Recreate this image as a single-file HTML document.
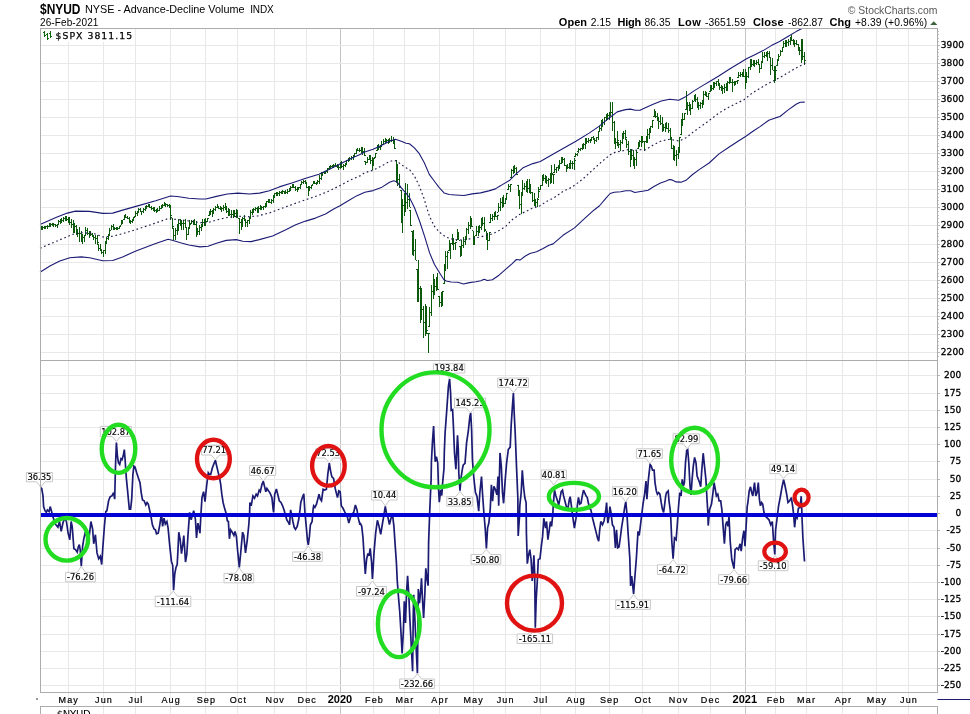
<!DOCTYPE html>
<html lang="en"><head><meta charset="utf-8"><title>$NYUD NYSE - Advance-Decline Volume</title>
<style>html,body{margin:0;padding:0;background:#fff}svg{display:block}text{font-family:"Liberation Sans",sans-serif;fill:#000}.ax{font-family:"DejaVu Sans","Liberation Sans",sans-serif;font-size:9px;stroke:#000;stroke-width:0.3px}.lb{font-family:"DejaVu Sans Condensed","DejaVu Sans","Liberation Sans",sans-serif;font-size:9.3px;stroke:#000;stroke-width:0.15px}.mo{font-family:"Liberation Sans",sans-serif;font-size:9px;letter-spacing:1.15px;stroke:#000;stroke-width:0.2px}.yr{font-family:"Liberation Sans",sans-serif;font-size:11px;font-weight:bold}</style></head><body>
<svg width="970" height="714" viewBox="0 0 970 714">
<rect width="970" height="714" fill="#fff"/>
<g shape-rendering="crispEdges"><path d="M68.5 28.5 V692.5 M68.5 706.5 V714" stroke="#e8e8e8" stroke-width="1" fill="none"/><path d="M68.5 692.5 V706.5" stroke="#ececec" stroke-width="1" fill="none"/><path d="M103.5 28.5 V692.5 M103.5 706.5 V714" stroke="#e8e8e8" stroke-width="1" fill="none"/><path d="M103.5 692.5 V706.5" stroke="#ececec" stroke-width="1" fill="none"/><path d="M135.5 28.5 V692.5 M135.5 706.5 V714" stroke="#e8e8e8" stroke-width="1" fill="none"/><path d="M135.5 692.5 V706.5" stroke="#ececec" stroke-width="1" fill="none"/><path d="M170.5 28.5 V692.5 M170.5 706.5 V714" stroke="#e8e8e8" stroke-width="1" fill="none"/><path d="M170.5 692.5 V706.5" stroke="#ececec" stroke-width="1" fill="none"/><path d="M205.5 28.5 V692.5 M205.5 706.5 V714" stroke="#e8e8e8" stroke-width="1" fill="none"/><path d="M205.5 692.5 V706.5" stroke="#ececec" stroke-width="1" fill="none"/><path d="M237.5 28.5 V692.5 M237.5 706.5 V714" stroke="#e8e8e8" stroke-width="1" fill="none"/><path d="M237.5 692.5 V706.5" stroke="#ececec" stroke-width="1" fill="none"/><path d="M274.5 28.5 V692.5 M274.5 706.5 V714" stroke="#e8e8e8" stroke-width="1" fill="none"/><path d="M274.5 692.5 V706.5" stroke="#ececec" stroke-width="1" fill="none"/><path d="M306.5 28.5 V692.5 M306.5 706.5 V714" stroke="#e8e8e8" stroke-width="1" fill="none"/><path d="M306.5 692.5 V706.5" stroke="#ececec" stroke-width="1" fill="none"/><path d="M340.5 28.5 V692.5 M340.5 706.5 V714" stroke="#c4c4c4" stroke-width="1" fill="none"/><path d="M340.5 692.5 V706.5" stroke="#ececec" stroke-width="1" fill="none"/><path d="M373.5 28.5 V692.5 M373.5 706.5 V714" stroke="#e8e8e8" stroke-width="1" fill="none"/><path d="M373.5 692.5 V706.5" stroke="#ececec" stroke-width="1" fill="none"/><path d="M404.5 28.5 V692.5 M404.5 706.5 V714" stroke="#e8e8e8" stroke-width="1" fill="none"/><path d="M404.5 692.5 V706.5" stroke="#ececec" stroke-width="1" fill="none"/><path d="M439.5 28.5 V692.5 M439.5 706.5 V714" stroke="#e8e8e8" stroke-width="1" fill="none"/><path d="M439.5 692.5 V706.5" stroke="#ececec" stroke-width="1" fill="none"/><path d="M473.5 28.5 V692.5 M473.5 706.5 V714" stroke="#e8e8e8" stroke-width="1" fill="none"/><path d="M473.5 692.5 V706.5" stroke="#ececec" stroke-width="1" fill="none"/><path d="M505.5 28.5 V692.5 M505.5 706.5 V714" stroke="#e8e8e8" stroke-width="1" fill="none"/><path d="M505.5 692.5 V706.5" stroke="#ececec" stroke-width="1" fill="none"/><path d="M540.5 28.5 V692.5 M540.5 706.5 V714" stroke="#e8e8e8" stroke-width="1" fill="none"/><path d="M540.5 692.5 V706.5" stroke="#ececec" stroke-width="1" fill="none"/><path d="M575.5 28.5 V692.5 M575.5 706.5 V714" stroke="#e8e8e8" stroke-width="1" fill="none"/><path d="M575.5 692.5 V706.5" stroke="#ececec" stroke-width="1" fill="none"/><path d="M609.5 28.5 V692.5 M609.5 706.5 V714" stroke="#e8e8e8" stroke-width="1" fill="none"/><path d="M609.5 692.5 V706.5" stroke="#ececec" stroke-width="1" fill="none"/><path d="M642.5 28.5 V692.5 M642.5 706.5 V714" stroke="#e8e8e8" stroke-width="1" fill="none"/><path d="M642.5 692.5 V706.5" stroke="#ececec" stroke-width="1" fill="none"/><path d="M678.5 28.5 V692.5 M678.5 706.5 V714" stroke="#e8e8e8" stroke-width="1" fill="none"/><path d="M678.5 692.5 V706.5" stroke="#ececec" stroke-width="1" fill="none"/><path d="M710.5 28.5 V692.5 M710.5 706.5 V714" stroke="#e8e8e8" stroke-width="1" fill="none"/><path d="M710.5 692.5 V706.5" stroke="#ececec" stroke-width="1" fill="none"/><path d="M745.5 28.5 V692.5 M745.5 706.5 V714" stroke="#c4c4c4" stroke-width="1" fill="none"/><path d="M745.5 692.5 V706.5" stroke="#ececec" stroke-width="1" fill="none"/><path d="M775.5 28.5 V692.5 M775.5 706.5 V714" stroke="#e8e8e8" stroke-width="1" fill="none"/><path d="M775.5 692.5 V706.5" stroke="#ececec" stroke-width="1" fill="none"/><path d="M806.5 28.5 V692.5 M806.5 706.5 V714" stroke="#e8e8e8" stroke-width="1" fill="none"/><path d="M806.5 692.5 V706.5" stroke="#ececec" stroke-width="1" fill="none"/><path d="M842.5 28.5 V692.5 M842.5 706.5 V714" stroke="#e8e8e8" stroke-width="1" fill="none"/><path d="M842.5 692.5 V706.5" stroke="#ececec" stroke-width="1" fill="none"/><path d="M876.5 28.5 V692.5 M876.5 706.5 V714" stroke="#e8e8e8" stroke-width="1" fill="none"/><path d="M876.5 692.5 V706.5" stroke="#ececec" stroke-width="1" fill="none"/><path d="M908.5 28.5 V692.5 M908.5 706.5 V714" stroke="#e8e8e8" stroke-width="1" fill="none"/><path d="M908.5 692.5 V706.5" stroke="#ececec" stroke-width="1" fill="none"/><path d="M40.5 352.5 H937.5 M40.5 334.5 H937.5 M40.5 316.5 H937.5 M40.5 298.5 H937.5 M40.5 280.5 H937.5 M40.5 262.5 H937.5 M40.5 244.5 H937.5 M40.5 225.5 H937.5 M40.5 207.5 H937.5 M40.5 189.5 H937.5 M40.5 171.5 H937.5 M40.5 153.5 H937.5 M40.5 135.5 H937.5 M40.5 117.5 H937.5 M40.5 99.5 H937.5 M40.5 81.5 H937.5 M40.5 63.5 H937.5 M40.5 45.5 H937.5 M40.5 685.5 H937.5 M40.5 668.5 H937.5 M40.5 651.5 H937.5 M40.5 634.5 H937.5 M40.5 616.5 H937.5 M40.5 599.5 H937.5 M40.5 582.5 H937.5 M40.5 565.5 H937.5 M40.5 548.5 H937.5 M40.5 530.5 H937.5 M40.5 513.5 H937.5 M40.5 496.5 H937.5 M40.5 479.5 H937.5 M40.5 461.5 H937.5 M40.5 444.5 H937.5 M40.5 427.5 H937.5 M40.5 410.5 H937.5 M40.5 393.5 H937.5 M40.5 375.5 H937.5" stroke="#e8e8e8" stroke-width="1" fill="none"/></g>
<path d="M41.5 226V230M41 228.5h-1M42 227.5h1M42.5 226V230M42 227.5h-1M43 227.5h1M44.5 226V229M44 227.5h-1M45 227.5h1M45.5 226V229M45 227.5h-1M46 226.5h1M47.5 225V229M47 226.5h-1M48 226.5h1M49.5 223V227M49 226.5h-1M50 224.5h1M50.5 223V227M50 224.5h-1M51 224.5h1M52.5 223V226M52 224.5h-1M53 224.5h1M53.5 223V227M53 224.5h-1M54 224.5h1M55.5 224V227M55 224.5h-1M56 225.5h1M57.5 224V228M57 225.5h-1M58 224.5h1M58.5 220V225M58 224.5h-1M59 221.5h1M60.5 219V224M60 221.5h-1M61 220.5h1M61.5 218V223M61 220.5h-1M62 220.5h1M63.5 217V222M63 220.5h-1M64 218.5h1M65.5 216V221M65 218.5h-1M66 217.5h1M66.5 216V221M66 217.5h-1M67 219.5h1M68.5 217V223M68 219.5h-1M69 221.5h1M69.5 217V225M69 221.5h-1M70 222.5h1M71.5 219V228M71 222.5h-1M72 224.5h1M73.5 220V233M73 224.5h-1M74 229.5h1M74.5 223V233M74 229.5h-1M75 226.5h1M76.5 225V235M76 226.5h-1M77 232.5h1M77.5 229V237M77 232.5h-1M78 233.5h1M79.5 227V242M79 233.5h-1M80 233.5h1M81.5 231V242M81 233.5h-1M82 236.5h1M82.5 234V244M82 236.5h-1M83 237.5h1M84.5 235V242M84 237.5h-1M85 235.5h1M85.5 227V236M85 235.5h-1M86 230.5h1M87.5 228V235M87 230.5h-1M88 233.5h1M89.5 231V238M89 233.5h-1M90 234.5h1M90.5 231V236M90 234.5h-1M91 234.5h1M92.5 233V237M92 234.5h-1M93 236.5h1M93.5 235V240M93 236.5h-1M94 237.5h1M95.5 235V244M95 237.5h-1M96 238.5h1M97.5 235V244M97 238.5h-1M98 242.5h1M98.5 244V251M98 244.5h-1M99 248.5h1M100.5 244V251M100 248.5h-1M101 249.5h1M101.5 249V254M101 249.5h-1M102 252.5h1M103.5 250V257M103 252.5h-1M104 250.5h1M105.5 241V254M105 250.5h-1M106 243.5h1M106.5 237V244M106 243.5h-1M107 238.5h1M108.5 234V240M108 238.5h-1M109 235.5h1M109.5 228V235M109 235.5h-1M110 230.5h1M111.5 225V230M111 230.5h-1M112 226.5h1M113.5 224V230M113 226.5h-1M114 228.5h1M114.5 227V230M114 228.5h-1M115 228.5h1M116.5 227V230M116 228.5h-1M117 228.5h1M117.5 227V230M117 228.5h-1M118 228.5h1M119.5 226V229M119 228.5h-1M120 226.5h1M121.5 220V225M121 225.5h-1M122 223.5h1M122.5 220V224M122 223.5h-1M123 219.5h1M124.5 215V220M124 219.5h-1M125 216.5h1M125.5 214V218M125 216.5h-1M126 217.5h1M127.5 216V219M127 217.5h-1M128 218.5h1M129.5 217V223M129 218.5h-1M130 221.5h1M130.5 220V224M130 221.5h-1M131 221.5h1M132.5 219V223M132 221.5h-1M133 220.5h1M133.5 217V221M133 220.5h-1M134 217.5h1M135.5 211V217M135 216.5h-1M136 213.5h1M137.5 211V216M137 213.5h-1M138 212.5h1M138.5 208V213M138 212.5h-1M139 209.5h1M140.5 208V212M140 209.5h-1M141 211.5h1M141.5 211V215M141 211.5h-1M142 211.5h1M143.5 208V213M143 211.5h-1M144 209.5h1M145.5 206V211M145 209.5h-1M146 207.5h1M146.5 205V209M146 207.5h-1M147 206.5h1M148.5 204V207M148 206.5h-1M149 206.5h1M149.5 204V208M149 206.5h-1M150 207.5h1M151.5 206V210M151 207.5h-1M152 208.5h1M153.5 207V211M153 208.5h-1M154 208.5h1M154.5 207V212M154 208.5h-1M155 210.5h1M156.5 209V213M156 210.5h-1M157 210.5h1M157.5 208V212M157 210.5h-1M158 210.5h1M159.5 206V211M159 210.5h-1M160 208.5h1M161.5 205V209M161 208.5h-1M162 206.5h1M162.5 204V208M162 206.5h-1M163 205.5h1M164.5 202V206M164 205.5h-1M165 204.5h1M165.5 203V207M165 204.5h-1M166 204.5h1M167.5 204V207M167 204.5h-1M168 205.5h1M169.5 204V208M169 205.5h-1M170 207.5h1M170.5 205V220M170 207.5h-1M171 215.5h1M172.5 218V229M172 217.5h-1M173 226.5h1M173.5 228V240M173 228.5h-1M174 235.5h1M175.5 228V240M175 235.5h-1M176 230.5h1M177.5 224V235M177 230.5h-1M178 226.5h1M178.5 219V231M178 226.5h-1M179 223.5h1M180.5 219V226M180 223.5h-1M181 224.5h1M181.5 220V230M181 224.5h-1M182 223.5h1M183.5 220V230M183 223.5h-1M184 223.5h1M185.5 219V228M185 223.5h-1M186 227.5h1M186.5 227V240M186 227.5h-1M187 234.5h1M188.5 227V235M188 234.5h-1M189 228.5h1M189.5 220V228M189 227.5h-1M190 224.5h1M191.5 220V224M191 223.5h-1M192 221.5h1M193.5 220V225M193 221.5h-1M194 222.5h1M194.5 219V225M194 222.5h-1M195 224.5h1M196.5 221V237M196 224.5h-1M197 232.5h1M197.5 228V235M197 232.5h-1M198 231.5h1M199.5 225V235M199 231.5h-1M200 227.5h1M201.5 224V231M201 227.5h-1M202 224.5h1M202.5 219V227M202 224.5h-1M203 222.5h1M204.5 219V226M204 222.5h-1M205 221.5h1M205.5 218V226M205 221.5h-1M206 221.5h1M207.5 218V222M207 221.5h-1M208 218.5h1M209.5 211V216M209 215.5h-1M210 212.5h1M210.5 209V215M210 212.5h-1M211 211.5h1M212.5 210V217M212 211.5h-1M213 211.5h1M213.5 208V214M213 211.5h-1M214 209.5h1M215.5 206V211M215 209.5h-1M216 207.5h1M217.5 204V208M217 207.5h-1M218 207.5h1M218.5 206V209M218 207.5h-1M219 208.5h1M220.5 206V210M220 208.5h-1M221 208.5h1M221.5 207V212M221 208.5h-1M222 208.5h1M223.5 205V211M223 208.5h-1M224 207.5h1M225.5 203V210M225 207.5h-1M226 206.5h1M226.5 206V213M226 206.5h-1M227 211.5h1M228.5 208V216M228 211.5h-1M229 213.5h1M229.5 209V216M229 213.5h-1M230 214.5h1M231.5 210V218M231 214.5h-1M232 214.5h1M233.5 210V218M233 214.5h-1M234 213.5h1M234.5 210V217M234 213.5h-1M235 213.5h1M236.5 209V218M236 213.5h-1M237 212.5h1M237.5 210V218M237 212.5h-1M238 218.5h1M239.5 218V234M239 218.5h-1M240 222.5h1M241.5 219V230M241 222.5h-1M242 221.5h1M242.5 217V227M242 221.5h-1M243 218.5h1M244.5 215V221M244 218.5h-1M245 219.5h1M245.5 219V227M245 219.5h-1M246 222.5h1M247.5 220V227M247 222.5h-1M248 220.5h1M249.5 218V224M249 220.5h-1M250 217.5h1M250.5 210V219M250 217.5h-1M251 212.5h1M252.5 209V215M252 212.5h-1M253 210.5h1M253.5 208V213M253 210.5h-1M254 209.5h1M255.5 207V211M255 209.5h-1M256 208.5h1M257.5 207V213M257 208.5h-1M258 210.5h1M258.5 206V213M258 210.5h-1M259 208.5h1M260.5 205V210M260 208.5h-1M261 207.5h1M261.5 206V210M261 207.5h-1M262 207.5h1M263.5 206V210M263 207.5h-1M264 206.5h1M265.5 203V208M265 206.5h-1M266 204.5h1M266.5 201V207M266 204.5h-1M267 201.5h1M268.5 199V203M268 201.5h-1M269 201.5h1M269.5 199V203M269 201.5h-1M270 202.5h1M271.5 199V204M271 202.5h-1M272 200.5h1M273.5 195V203M273 200.5h-1M274 197.5h1M274.5 193V198M274 197.5h-1M275 193.5h1M276.5 192V196M276 193.5h-1M277 193.5h1M277.5 192V196M277 193.5h-1M278 193.5h1M279.5 191V196M279 193.5h-1M280 192.5h1M281.5 191V194M281 192.5h-1M282 192.5h1M282.5 190V194M282 192.5h-1M283 191.5h1M284.5 191V194M284 191.5h-1M285 191.5h1M285.5 190V194M285 191.5h-1M286 192.5h1M287.5 189V194M287 192.5h-1M288 191.5h1M289.5 188V192M289 191.5h-1M290 188.5h1M290.5 186V191M290 188.5h-1M291 187.5h1M292.5 184V188M292 187.5h-1M293 185.5h1M293.5 184V188M293 185.5h-1M294 187.5h1M295.5 186V191M295 187.5h-1M296 189.5h1M297.5 187V192M297 189.5h-1M298 189.5h1M298.5 187V190M298 189.5h-1M299 187.5h1M300.5 184V189M300 187.5h-1M301 184.5h1M301.5 181V185M301 184.5h-1M302 182.5h1M303.5 180V184M303 182.5h-1M304 181.5h1M305.5 180V184M305 181.5h-1M306 183.5h1M306.5 182V188M306 183.5h-1M307 187.5h1M308.5 186V196M308 187.5h-1M309 190.5h1M309.5 186V191M309 190.5h-1M310 187.5h1M311.5 185V189M311 187.5h-1M312 185.5h1M313.5 181V184M313 184.5h-1M314 183.5h1M314.5 181V184M314 183.5h-1M315 183.5h1M316.5 182V185M316 183.5h-1M317 183.5h1M317.5 180V184M317 183.5h-1M318 181.5h1M319.5 175V184M319 181.5h-1M320 178.5h1M321.5 172V180M321 178.5h-1M322 175.5h1M322.5 172V175M322 174.5h-1M323 172.5h1M324.5 171V174M324 172.5h-1M325 172.5h1M325.5 171V174M325 172.5h-1M326 171.5h1M327.5 168V173M327 171.5h-1M328 168.5h1M329.5 166V170M329 168.5h-1M330 166.5h1M330.5 165V169M330 166.5h-1M331 166.5h1M332.5 165V168M332 166.5h-1M333 166.5h1M333.5 164V168M333 166.5h-1M334 165.5h1M335.5 163V167M335 165.5h-1M336 166.5h1M337.5 164V168M337 166.5h-1M338 166.5h1M338.5 165V170M338 166.5h-1M339 167.5h1M340.5 162V169M340 167.5h-1M341 166.5h1M341.5 161V168M341 166.5h-1M342 166.5h1M343.5 164V170M343 166.5h-1M344 165.5h1M345.5 163V167M345 165.5h-1M346 163.5h1M346.5 160V165M346 163.5h-1M347 160.5h1M348.5 158V162M348 160.5h-1M349 159.5h1M349.5 157V161M349 159.5h-1M350 158.5h1M351.5 156V160M351 158.5h-1M352 157.5h1M353.5 155V160M353 157.5h-1M354 156.5h1M354.5 153V157M354 156.5h-1M355 153.5h1M356.5 149V154M356 153.5h-1M357 150.5h1M357.5 148V151M357 150.5h-1M358 150.5h1M359.5 148V152M359 150.5h-1M360 150.5h1M361.5 147V153M361 150.5h-1M362 149.5h1M362.5 147V155M362 149.5h-1M363 151.5h1M364.5 148V156M364 151.5h-1M365 155.5h1M365.5 161V165M365 161.5h-1M366 162.5h1M367.5 157V163M367 162.5h-1M368 159.5h1M369.5 155V160M369 159.5h-1M370 158.5h1M370.5 155V164M370 158.5h-1M371 160.5h1M372.5 157V170M372 160.5h-1M373 164.5h1M373.5 158V166M373 164.5h-1M374 158.5h1M375.5 153V158M375 157.5h-1M376 153.5h1M377.5 145V151M377 150.5h-1M378 148.5h1M378.5 144V150M378 148.5h-1M379 147.5h1M380.5 145V150M380 147.5h-1M381 145.5h1M381.5 141V147M381 145.5h-1M382 144.5h1M383.5 139V145M383 144.5h-1M384 141.5h1M385.5 138V143M385 141.5h-1M386 140.5h1M386.5 139V143M386 140.5h-1M387 140.5h1M388.5 139V144M388 140.5h-1M389 140.5h1M389.5 138V143M389 140.5h-1M390 140.5h1M391.5 136V142M391 140.5h-1M392 140.5h1M393.5 137V144M393 140.5h-1M394 141.5h1M394.5 139V149M394 141.5h-1M395 148.5h1M396.5 160V183M396 160.5h-1M397 177.5h1M397.5 164V186M397 177.5h-1M398 179.5h1M399.5 174V188M399 179.5h-1M400 187.5h1M401.5 190V223M401 190.5h-1M402 212.5h1M402.5 199V233M402 212.5h-1M403 205.5h1M404.5 193V216M404 205.5h-1M405 196.5h1M405.5 183V212M405 196.5h-1M406 202.5h1M407.5 184V209M407 202.5h-1M408 199.5h1M409.5 193V207M409 199.5h-1M410 207.5h1M410.5 210V226M410 210.5h-1M411 225.5h1M412.5 231V255M412 231.5h-1M413 242.5h1M413.5 230V256M413 242.5h-1M414 250.5h1M415.5 239V260M415 250.5h-1M416 260.5h1M417.5 269V302M417 269.5h-1M418 279.5h1M418.5 260V302M418 279.5h-1M419 288.5h1M420.5 286V323M420 288.5h-1M421 301.5h1M421.5 288V320M421 301.5h-1M422 309.5h1M423.5 306V338M423 309.5h-1M424 322.5h1M425.5 304V336M425 322.5h-1M426 316.5h1M426.5 306V334M426 316.5h-1M427 330.5h1M428.5 333V353M428 333.5h-1M429 333.5h1M429.5 307V327M429 326.5h-1M430 312.5h1M431.5 285V316M431 312.5h-1M432 291.5h1M433.5 274V299M433 291.5h-1M434 286.5h1M434.5 279V295M434 286.5h-1M435 286.5h1M436.5 277V291M436 286.5h-1M437 285.5h1M437.5 273V290M437 285.5h-1M438 289.5h1M439.5 296V307M439 296.5h-1M440 302.5h1M441.5 292V307M441 302.5h-1M442 298.5h1M442.5 291V306M442 298.5h-1M443 291.5h1M444.5 264V284M444 283.5h-1M445 267.5h1M445.5 251V271M445 267.5h-1M446 256.5h1M447.5 251V269M447 256.5h-1M448 252.5h1M449.5 240V251M449 250.5h-1M450 246.5h1M450.5 243V259M450 246.5h-1M451 243.5h1M452.5 234V245M452 243.5h-1M453 243.5h1M453.5 238V250M453 243.5h-1M454 243.5h1M455.5 242V250M455 243.5h-1M456 242.5h1M457.5 229V240M457 240.5h-1M458 236.5h1M458.5 232V240M458 236.5h-1M459 240.5h1M460.5 246V257M460 246.5h-1M461 249.5h1M461.5 240V256M461 249.5h-1M462 245.5h1M463.5 237V248M463 245.5h-1M464 241.5h1M465.5 236V245M465 241.5h-1M466 238.5h1M466.5 228V240M466 238.5h-1M467 229.5h1M468.5 222V234M468 229.5h-1M469 225.5h1M470.5 216V229M470 225.5h-1M471 221.5h1M471.5 218V227M471 221.5h-1M472 226.5h1M473.5 231V245M473 230.5h-1M474 240.5h1M474.5 236V245M474 240.5h-1M475 235.5h1M476.5 226V236M476 235.5h-1M477 231.5h1M478.5 226V236M478 231.5h-1M479 230.5h1M479.5 225V233M479 230.5h-1M480 227.5h1M481.5 218V230M481 227.5h-1M482 222.5h1M482.5 217V226M482 222.5h-1M483 223.5h1M484.5 217V232M484 223.5h-1M485 229.5h1M486.5 231V240M486 230.5h-1M487 238.5h1M487.5 233V250M487 238.5h-1M488 240.5h1M489.5 232V241M489 240.5h-1M490 232.5h1M490.5 214V223M490 222.5h-1M491 218.5h1M492.5 214V221M492 218.5h-1M493 216.5h1M494.5 212V220M494 216.5h-1M495 216.5h1M495.5 211V217M495 216.5h-1M496 216.5h1M497.5 215V220M497 216.5h-1M498 215.5h1M498.5 203V212M498 212.5h-1M499 207.5h1M500.5 198V211M500 207.5h-1M501 202.5h1M502.5 197V208M502 202.5h-1M503 202.5h1M503.5 195V207M503 202.5h-1M504 203.5h1M505.5 198V204M505 203.5h-1M506 199.5h1M506.5 193V200M506 199.5h-1M507 193.5h1M508.5 184V190M508 189.5h-1M509 186.5h1M510.5 184V192M510 186.5h-1M511 184.5h1M511.5 169V178M511 177.5h-1M512 170.5h1M513.5 166V174M513 170.5h-1M514 168.5h1M514.5 165V173M514 168.5h-1M515 168.5h1M516.5 167V175M516 168.5h-1M517 174.5h1M518.5 185V196M518 185.5h-1M519 195.5h1M519.5 190V209M519 195.5h-1M520 204.5h1M521.5 193V214M521 204.5h-1M522 192.5h1M522.5 180V196M522 192.5h-1M523 188.5h1M524.5 183V190M524 188.5h-1M525 186.5h1M526.5 181V192M526 186.5h-1M527 184.5h1M527.5 179V193M527 184.5h-1M528 188.5h1M529.5 179V193M529 188.5h-1M530 190.5h1M530.5 184V194M530 190.5h-1M531 192.5h1M532.5 192V202M532 192.5h-1M533 200.5h1M534.5 193V206M534 200.5h-1M535 200.5h1M535.5 199V207M535 200.5h-1M536 202.5h1M537.5 198V207M537 202.5h-1M538 199.5h1M538.5 187V198M538 198.5h-1M539 191.5h1M540.5 185V190M540 189.5h-1M541 185.5h1M542.5 175V186M542 185.5h-1M543 178.5h1M543.5 174V181M543 178.5h-1M544 178.5h1M545.5 175V183M545 178.5h-1M546 179.5h1M546.5 176V184M546 179.5h-1M547 180.5h1M548.5 178V187M548 180.5h-1M549 179.5h1M550.5 173V184M550 179.5h-1M551 177.5h1M551.5 165V183M551 177.5h-1M552 173.5h1M553.5 174V184M553 174.5h-1M554 174.5h1M554.5 164V173M554 172.5h-1M555 169.5h1M556.5 167V173M556 169.5h-1M557 167.5h1M558.5 165V171M558 167.5h-1M559 166.5h1M559.5 160V169M559 166.5h-1M560 163.5h1M561.5 157V164M561 163.5h-1M562 160.5h1M562.5 157V163M562 160.5h-1M563 159.5h1M564.5 158V166M564 159.5h-1M565 165.5h1M566.5 165V172M566 165.5h-1M567 168.5h1M567.5 164V169M567 168.5h-1M568 167.5h1M569.5 163V169M569 167.5h-1M570 164.5h1M570.5 160V169M570 164.5h-1M571 163.5h1M572.5 161V169M572 163.5h-1M573 163.5h1M574.5 158V170M574 163.5h-1M575 160.5h1M575.5 153V157M575 156.5h-1M576 154.5h1M577.5 153V156M577 154.5h-1M578 152.5h1M578.5 148V152M578 151.5h-1M579 149.5h1M580.5 148V151M580 149.5h-1M581 148.5h1M582.5 144V150M582 148.5h-1M583 147.5h1M583.5 143V149M583 147.5h-1M584 144.5h1M585.5 138V149M585 144.5h-1M586 140.5h1M586.5 138V144M586 140.5h-1M587 141.5h1M588.5 138V143M588 141.5h-1M589 140.5h1M590.5 139V143M590 140.5h-1M591 140.5h1M591.5 137V141M591 140.5h-1M592 137.5h1M593.5 136V140M593 137.5h-1M594 138.5h1M594.5 138V144M594 138.5h-1M595 140.5h1M596.5 137V142M596 140.5h-1M597 137.5h1M598.5 131V140M598 137.5h-1M599 131.5h1M599.5 126V132M599 131.5h-1M600 128.5h1M601.5 120V131M601 128.5h-1M602 124.5h1M602.5 119V127M602 124.5h-1M603 122.5h1M604.5 117V125M604 122.5h-1M605 117.5h1M606.5 114V121M606 117.5h-1M607 118.5h1M607.5 113V120M607 118.5h-1M608 115.5h1M609.5 112V120M609 115.5h-1M610 113.5h1M610.5 102V116M610 113.5h-1M611 112.5h1M612.5 102V131M612 112.5h-1M613 122.5h1M614.5 121V144M614 122.5h-1M615 138.5h1M615.5 139V149M615 139.5h-1M616 142.5h1M617.5 131V146M617 142.5h-1M618 140.5h1M618.5 142V148M618 142.5h-1M619 144.5h1M620.5 140V151M620 144.5h-1M621 142.5h1M622.5 133V144M622 142.5h-1M623 135.5h1M623.5 131V139M623 135.5h-1M624 133.5h1M625.5 130V139M625 133.5h-1M626 137.5h1M626.5 139V148M626 139.5h-1M627 144.5h1M628.5 141V155M628 144.5h-1M629 151.5h1M630.5 149V167M630 151.5h-1M631 154.5h1M631.5 149V160M631 154.5h-1M632 155.5h1M633.5 150V166M633 155.5h-1M634 162.5h1M634.5 157V169M634 162.5h-1M635 159.5h1M636.5 151V166M636 159.5h-1M637 152.5h1M638.5 142V149M638 148.5h-1M639 143.5h1M639.5 140V147M639 143.5h-1M640 141.5h1M641.5 136V147M641 141.5h-1M642 138.5h1M642.5 136V143M642 138.5h-1M643 141.5h1M644.5 141V151M644 141.5h-1M645 141.5h1M646.5 136V143M646 141.5h-1M647 138.5h1M647.5 129V143M647 138.5h-1M648 134.5h1M649.5 128V139M649 134.5h-1M650 129.5h1M650.5 126V133M650 129.5h-1M651 126.5h1M652.5 120V128M652 126.5h-1M653 120.5h1M654.5 109V117M654 116.5h-1M655 112.5h1M655.5 111V118M655 112.5h-1M656 116.5h1M657.5 113V121M657 116.5h-1M658 119.5h1M658.5 117V129M658 119.5h-1M659 121.5h1M660.5 115V125M660 121.5h-1M661 123.5h1M662.5 117V132M662 123.5h-1M663 125.5h1M663.5 124V131M663 125.5h-1M664 127.5h1M665.5 123V132M665 127.5h-1M666 127.5h1M666.5 122V129M666 127.5h-1M667 128.5h1M668.5 123V133M668 128.5h-1M669 130.5h1M670.5 128V139M670 130.5h-1M671 139.5h1M671.5 137V149M671 139.5h-1M672 148.5h1M673.5 145V160M673 148.5h-1M674 153.5h1M674.5 146V161M674 153.5h-1M675 155.5h1M676.5 150V166M676 155.5h-1M677 154.5h1M678.5 148V159M678 154.5h-1M679 147.5h1M679.5 137V153M679 147.5h-1M680 137.5h1M681.5 119V135M681 134.5h-1M682 120.5h1M682.5 113V126M682 120.5h-1M683 119.5h1M684.5 113V120M684 119.5h-1M685 113.5h1M686.5 91V110M686 109.5h-1M687 102.5h1M687.5 102V115M687 102.5h-1M688 105.5h1M689.5 102V111M689 105.5h-1M690 109.5h1M690.5 104V115M690 109.5h-1M691 108.5h1M692.5 100V109M692 108.5h-1M693 101.5h1M694.5 95V101M694 101.5h-1M695 97.5h1M695.5 94V102M695 97.5h-1M696 99.5h1M697.5 97V108M697 99.5h-1M698 103.5h1M698.5 102V110M698 103.5h-1M699 105.5h1M700.5 102V109M700 105.5h-1M701 103.5h1M702.5 100V108M702 103.5h-1M703 100.5h1M703.5 91V105M703 100.5h-1M704 94.5h1M705.5 91V96M705 94.5h-1M706 94.5h1M706.5 92V97M706 94.5h-1M707 96.5h1M708.5 93V100M708 96.5h-1M709 93.5h1M710.5 85V92M710 91.5h-1M711 87.5h1M711.5 85V91M711 87.5h-1M712 88.5h1M713.5 82V90M713 88.5h-1M714 84.5h1M714.5 82V88M714 84.5h-1M715 83.5h1M716.5 81V86M716 83.5h-1M717 81.5h1M718.5 79V86M718 81.5h-1M719 84.5h1M719.5 83V90M719 84.5h-1M720 87.5h1M721.5 85V91M721 87.5h-1M722 89.5h1M722.5 86V94M722 89.5h-1M723 88.5h1M724.5 84V93M724 88.5h-1M725 87.5h1M726.5 83V91M726 87.5h-1M727 84.5h1M727.5 81V91M727 84.5h-1M728 82.5h1M729.5 77V84M729 82.5h-1M730 79.5h1M730.5 77V83M730 79.5h-1M731 82.5h1M732.5 79V92M732 82.5h-1M733 82.5h1M734.5 81V86M734 82.5h-1M735 82.5h1M735.5 81V85M735 82.5h-1M736 81.5h1M737.5 80V84M737 81.5h-1M738 80.5h1M738.5 72V78M738 77.5h-1M739 75.5h1M740.5 72V77M740 75.5h-1M741 74.5h1M742.5 72V77M742 74.5h-1M743 74.5h1M743.5 69V77M743 74.5h-1M744 76.5h1M745.5 69V89M745 76.5h-1M746 80.5h1M746.5 72V83M746 80.5h-1M747 76.5h1M748.5 67V78M748 76.5h-1M749 67.5h1M750.5 59V70M750 67.5h-1M751 62.5h1M751.5 59V67M751 62.5h-1M752 64.5h1M753.5 60V66M753 64.5h-1M754 62.5h1M754.5 60V67M754 62.5h-1M755 63.5h1M756.5 60V65M756 63.5h-1M757 62.5h1M758.5 59V65M758 62.5h-1M759 64.5h1M759.5 64V73M759 64.5h-1M760 68.5h1M761.5 62V69M761 68.5h-1M762 62.5h1M762.5 52V62M762 61.5h-1M763 56.5h1M764.5 52V58M764 56.5h-1M765 55.5h1M766.5 52V57M766 55.5h-1M767 56.5h1M767.5 51V61M767 56.5h-1M768 53.5h1M769.5 51V58M769 53.5h-1M770 57.5h1M770.5 57V75M770 57.5h-1M771 65.5h1M772.5 58V70M772 65.5h-1M773 70.5h1M774.5 66V83M774 70.5h-1M775 76.5h1M775.5 66V81M775 76.5h-1M776 70.5h1M777.5 59V66M777 65.5h-1M778 60.5h1M778.5 54V61M778 60.5h-1M779 56.5h1M780.5 50V56M780 56.5h-1M781 51.5h1M782.5 47V52M782 51.5h-1M783 47.5h1M783.5 41V48M783 47.5h-1M784 43.5h1M785.5 40V47M785 43.5h-1M786 42.5h1M786.5 40V47M786 42.5h-1M787 42.5h1M788.5 39V46M788 42.5h-1M789 41.5h1M790.5 37V45M790 41.5h-1M791 38.5h1M791.5 35V41M791 38.5h-1M792 40.5h1M793.5 39V45M793 40.5h-1M794 42.5h1M794.5 40V47M794 42.5h-1M795 43.5h1M796.5 40V45M796 43.5h-1M797 44.5h1M798.5 44V51M798 44.5h-1M799 49.5h1M799.5 47V55M799 49.5h-1M800 50.5h1M801.5 39V63M801 50.5h-1M802 45.5h1M802.5 39V60M802 45.5h-1M803 56.5h1M804.5 52V65M804 56.5h-1M805 60.5h1" stroke="#0b590b" stroke-width="1" fill="none" shape-rendering="crispEdges"/>
<polyline points="40,224.6 56.5,217.2 67.3,213.1 75.5,211.1 89.6,211.4 102.8,213.4 112.7,213.1 122.6,210.1 135.9,206.4 155.7,200.7 170.6,196 177.2,196.5 188.8,198.2 200,199 205.8,199 216.5,196.4 227.3,194 238,193.1 249.6,194 259.5,193.1 269.4,190.7 279.3,186.9 292.6,182.8 305.8,178.2 319,174.2 328.9,169.6 340.5,163.8 352.1,158 360,154.4 364.8,152.1 373.1,149.3 381.3,145.5 389.6,141.3 395.4,139.2 401.2,141.3 406.1,143.3 409.4,143.8 414.4,147.9 419.3,153.7 424.3,162.8 429.3,174.4 434.2,181 439.2,187.6 444.1,192.9 449.1,194.5 455.7,195 464,195.5 472.2,193.9 480.5,192.9 488.8,190.9 495.4,188.9 500,186 501.5,185.1 509.8,180.2 516.4,173.6 523,167.8 532.9,163.6 540.3,161.5 549.4,156.2 562.6,148.8 575.9,141.3 589.1,133.1 599,126.4 608.9,118.2 617.2,111.9 625.5,109.6 630.4,109.1 635.4,110.2 640,110.2 644.8,107.9 653.1,104.3 661.3,101 669.6,99.3 678.7,100.2 686.1,96.4 694.4,90.6 702.6,85.6 710.9,80.7 719.2,75.7 730,68.8 738.3,63.8 746.5,58.8 754.8,54.7 763.1,50.6 771.3,45.6 779.6,41.5 787.9,36.5 796.1,31.6 802.4,28.3" fill="none" stroke="#1b1b74" stroke-width="1.1" stroke-linejoin="round"/>
<polyline points="40,272.2 49.9,266 59.8,261 69.8,257.7 81.3,256.9 89.6,257.7 102.8,260.7 112.7,260.5 122.6,256.9 135.9,251.1 155.7,243.6 168.1,239.2 172.2,240.3 180.5,242.8 188.8,245 200,246.9 208.1,246.2 216.4,243.2 226.3,240.4 236.2,239.6 242.8,241.2 251.1,241.6 259.3,239.6 272.6,236 285.8,229.7 295.7,224.7 305.6,221.1 315.5,218.1 325.5,214 333.7,209 340,205.7 348.3,200.8 356.5,195.9 364.8,192.2 373.1,190.6 381.3,187.6 389.6,182.3 393.7,180.7 397,181.8 401.2,187.6 406.1,193.4 409.4,197.5 412.7,204.1 414.7,208.3 419.7,221.5 424.6,236.4 429.6,252.9 434.5,264.5 439.5,272.7 443.6,279.3 446.1,281 451.1,282 457.7,282.3 463.5,284 469.3,282.6 475.9,281.8 480.8,280.7 484.1,279.3 487.4,280.5 492.4,279.7 499,275.2 505.6,269.4 512.2,263.6 516.4,259.5 518.8,259.8 520,260.1 525,256.3 529.9,253.5 536.5,251.8 543.1,248.5 548.9,245.2 553.1,243.9 563,235.3 574.5,227.9 586.1,217.1 594.4,209.7 599.3,206 606,198.1 610.1,193.5 614.2,192.3 620.8,191.8 625.8,190.7 630.7,190.7 634.9,192.5 639,191.8 644,191 648.1,190.3 653.9,186.5 660.5,182.9 665.5,181.2 669.6,179.6 672.1,179.9 676.2,181.9 680,182.1 681,182.3 686,180.3 692.6,174.5 699.2,169.6 709.1,163 719,153.9 728.9,147.3 738.8,140.7 745.5,136.5 753.7,130.7 760,126.6 768.8,120.3 775.4,117.9 780,116.5 787.9,110.1 796.1,104.3 800.2,102.3 804.7,102.1" fill="none" stroke="#1b1b74" stroke-width="1.1" stroke-linejoin="round"/>
<polyline points="40,248.3 56.5,241.2 73.1,234.2 81.3,232.6 94.5,233.7 102.8,237 112.7,236.2 122.6,233.7 135.9,229.6 155.7,223 168.9,218.3 173.9,219.2 185.5,220.5 200,222.6 208.3,222.5 216.5,220 227.3,217.5 238,216.2 249.6,216.7 257.9,215.9 269.4,212.9 279.3,209.3 292.6,204.3 305.8,199.7 319,195.2 328.9,191.1 340.5,185.3 352.1,179.2 360,175.9 364.8,172.7 373.1,170.2 381.3,166.1 389.6,161.5 393.7,160.3 397,161.2 401.2,164.5 406.1,167.8 409.4,169.4 414.4,176 419.3,186 424.3,199.2 426.3,206.6 429.6,216.5 434.5,226.4 439.5,232.2 446.1,237.2 452.7,239.3 459.3,240 466,239.7 472.6,238.3 479.2,237.2 485.8,235.5 492.4,233.9 499,230.6 505.6,226.4 512.2,219.8 518.8,214.9 525.5,211.6 532.1,208.3 540,205.8 546.1,201.7 554.4,197.5 562.6,191.7 572.6,186.8 582.5,179.3 592.4,170.2 602.3,161.2 610.6,154.5 615.5,152.1 622.1,150.9 628.8,149.6 635.4,150.4 640,149.6 644.8,150.1 653.1,145.1 661.3,141 669.6,139.3 679.5,141 686.1,137.7 694.4,131.1 702.6,125.3 710.9,119.2 719.2,112.9 727.4,107.9 735.7,103.8 744,99.7 752.2,93.1 760.5,88.1 768.8,83.1 775.4,79.8 780,77.4 787.9,72.9 796.1,67.9 802.7,64.6 805.4,63.3" fill="none" stroke="#20204e" stroke-width="1.15" stroke-dasharray="1.7,2.7"/>
<polyline points="40.8,487.6 41.7,488.4 43,495.9 43.6,506.6 45,510.7 46.3,512.4 47.4,509.9 49.1,511.6 50.2,506.6 51.6,511.6 53.2,517.4 54.9,523.1 56.5,525.6 57.9,527.3 59.5,521.5 61.2,531.4 63.1,522.3 64.8,518.2 66.4,521.5 68.1,533.1 69.8,539.7 71.1,521.5 72.2,526.4 73.9,548.8 75.5,549.6 77.2,552.1 78.3,547.1 79.3,544.6 80.2,549.6 81.3,566.1 82.6,546.3 83.8,538.8 85.5,531.4 87.1,538 88.3,543.8 89.6,533.1 90.9,521.5 92.6,528.9 93.7,543.8 95.4,534.7 97,552.9 98.7,558.7 100.3,556.2 101.7,564.5 102.8,547.9 104.5,524.8 105.8,511.6 106.9,510.7 108.6,500.8 110.2,496.7 111.9,495.9 113.6,492.6 114.7,499.2 115.5,466.1 116.4,442.6 117.4,456.2 118.5,462.8 119.7,464.5 121,458.7 122.1,459.5 123.5,454.5 124.3,449.6 125.1,459.5 126.3,477.7 127.6,490.9 129.3,509.1 130.6,509.1 131.7,499.2 132.9,474.4 133.9,466.1 135,466.9 136.7,472.7 138.3,477.7 140,482.6 141.2,492.6 142.5,500 144.1,500.8 145.8,505 147.1,502.5 148.3,504.1 149.4,509.1 150.7,514.9 152.4,524.8 154,528.9 155.4,529.8 156.5,533.9 158.2,533.1 159.8,524.8 161.5,513.2 162.6,526.4 164,518.2 165.3,524 166.9,521.5 168.1,528.1 169.8,546.3 171.4,561.2 172.7,565.3 173.6,590.1 174.7,574.4 175.9,567.8 177.2,564.5 178,549.6 178.8,532.2 180.2,539.7 181.5,553.7 183,543 183.8,535.5 185.5,562 186.8,554.5 187.9,536.4 189.6,512.4 191.2,519.8 192.4,514.9 193.7,510.7 195.4,519 196.5,538 197.9,523.1 199,528.1 200,533.1 200.1,529.8 200.8,516.5 202,497.5 203.6,491.7 205,501.7 206.6,486 208.3,472.7 209.6,474.4 210.7,474.4 212.4,467.8 214,463.6 215.4,460.3 216.5,465.3 217.9,471.1 219.5,477.7 220.7,484.3 221.8,494.2 223.1,502.5 224.8,509.1 226.1,513.2 227.3,520.7 228.4,521.5 229.4,538.8 230.6,529.8 232.2,532.2 233.9,535.5 235,531.4 236.4,536.4 237.7,551.2 239.3,567.4 241,549.6 242.6,532.2 243.8,535.5 245.5,552.9 247.1,541.3 248.8,524.8 249.6,513.2 249.9,502.5 251.2,505.8 252.9,495.9 254.5,498.3 256.2,494.2 257.5,495.9 259.2,490.1 260.3,491.7 262,484.3 263.3,481.3 264.8,487.6 265.8,491.7 266.9,488.4 268.6,490.9 270.2,493.4 271.9,497.5 273.1,509.1 273.6,512.4 274.7,494.2 276.4,488.9 277.7,494.2 279.3,500.8 281,502.5 282.6,505.8 284.3,510.7 285.1,514 286.8,519.8 288.4,522.3 289.6,524.8 290.6,509.9 291.7,514.9 292.9,521.5 294.2,527.3 295.5,529.4 297.2,526.4 298.8,519 300,509.9 300.8,502.5 302.1,498.3 303.8,493.9 304.6,507.4 305,513.2 306.1,524.8 307.4,539.7 308.3,545 309.4,536.4 310.4,524.8 312.1,521.5 313.2,508.3 313.7,505.8 314.9,507.4 316.5,504.1 318.2,497.5 319,494.2 320.3,499.2 321.5,500.8 323.1,489.3 324.8,490.1 326.4,489.3 327.8,474.4 329.3,463.1 330.6,471.1 331.9,476.9 333.6,478.5 335.2,488.4 336.4,493.4 337.5,497.5 338.8,490.9 340.2,491.7 341.3,505.8 343,508.3 344.6,511.6 345.5,513.2 347.1,515.7 348.8,523.1 350.4,517.4 352.1,514 353.7,512.4 355.4,505 357,509.9 358.3,518.2 360,524.8 360.1,522.8 361.7,526.1 363,537.7 364.1,555.9 365.3,574 366.6,559.2 367.9,553.4 369.1,555.9 370.2,548.4 371.6,562.5 372.4,579 373.2,567.4 374,552.6 375.7,532.7 377.4,520.3 379,526.1 380.7,534.4 382.3,524.5 384,514.5 385.3,506.3 386.4,512.9 388.1,517.9 389.4,524.5 391.1,517.9 392.7,516.2 393.9,526.1 395,542.6 396.4,562.5 397.2,579.9 398.3,594.8 399.7,611.3 401,632.8 402.1,653.5 403.3,632.8 404.3,601.4 405.5,622.9 406.6,591.5 407.6,575.8 408.8,594.8 409.9,619.6 411.2,644.4 412.6,671.2 413.2,619.6 413.7,594.8 414.9,619.6 416.2,649.3 417.4,673.3 417.9,627.9 418.3,589 419.5,603.1 420.8,589.8 421.5,578.3 422.5,599.8 423.6,617.9 424.8,594.8 425.8,568.3 426.9,578.3 428.1,585.7 428.6,542.6 429.8,509.6 431.1,479.8 431.4,462.5 432.4,442.6 433.6,426.1 434.4,446 435.2,461.7 436.4,456.7 437.7,462.5 438.5,488.1 439.3,502.1 440.7,489.8 441.8,495.5 442.6,483.1 444,468.3 444.3,452.6 445.1,432.7 446.8,409.6 448.4,386.4 449.6,379 450.6,393.1 451.2,410.4 452.6,409.6 453.4,426.1 454.5,452.6 455.9,469.1 456.7,452.6 457.5,435.2 458.3,449.3 458.8,473.2 460,490.6 461.2,476.5 462.5,468.3 463.3,465 465,463.3 466.6,442.6 468.3,431.1 469.9,416.2 470.7,412.9 471.6,429.4 472.4,459.2 473.7,476.5 475.4,492.2 477,496.4 478.7,511.2 479.8,493.1 481.5,476.5 482.6,494.7 484,514.5 485.3,529.4 486.4,548.4 487.6,527.8 488.9,522.8 490.2,509.6 491.4,484.8 492.6,501.3 493.9,486.4 495.5,489.8 496.9,494.7 498,476.5 498.7,505.8 500,452.9 501.3,466.1 502.5,492.6 503.6,503.3 505,482.6 506.6,462.8 508.3,449.6 510.2,447.1 511.2,424.8 512.4,406.6 513.4,393.1 514.2,413.2 515.2,433.1 516.5,466.1 517.9,499.2 517.9,516.5 518.2,536 519.5,516.5 519.8,505.8 521.2,492.6 522.3,470.2 523.5,486 524.8,497.5 526.1,502.5 526.2,508.3 526.4,533.1 527.3,563.6 528.4,556.2 529.8,549.6 531.1,559.5 532.2,581 533.1,569.4 533.9,555.4 534.7,574.4 535.3,627.8 536.2,599.2 537.2,582.6 538.3,559.5 540,558.7 541.3,546.3 542.6,536.4 543.8,518.2 545.5,528.1 546.6,521.5 547.9,539.7 549.3,529.8 550.4,521.5 551.6,526.4 552.9,513.2 553.2,505.8 554.5,490.1 555.9,495.9 557,499.2 558.7,505 559.8,499.2 561.2,491.7 562.5,490.1 563.6,495.9 565.3,502.5 566.6,507.4 568.1,507.4 569.4,499.2 570.2,496.7 571.4,505.8 572.7,516.5 574.4,528.1 576,518.2 577.7,502.5 578.5,497.5 579.7,504.1 581,503.3 582.3,495.9 583.5,490.1 584.6,492.6 586,495.9 587.3,497.5 588.4,503.3 590.1,509.1 590.9,509.9 592.6,518.2 594.2,524.8 595.9,531.4 597.5,538 598.7,541.3 599.7,529.8 600.8,521.5 602.5,524.8 604.1,520.7 605.8,509.9 606.6,502.5 607.8,523.1 609.1,516.5 609.9,506.6 611.1,513.2 612.4,524.8 614,527.3 615.4,547.9 616.5,529.8 617.7,547.9 619,547.1 620.3,538 621.5,528.1 623.1,518.2 624.8,506.6 625.8,501.7 626.9,513.2 628.1,533.1 629.8,557.9 630.6,586 631.7,576 633.6,593.9 634.7,579.3 636.4,557.9 638,531.4 639.2,535.5 640.5,524.8 642.1,511.6 643,504.1 644.6,494.2 646,481 646.9,499.2 648.4,479.3 650.1,464.5 651.3,466.1 652.5,470.2 654.1,470.2 655,482.6 656.3,490.9 657.4,494.2 658.6,492.6 659.9,494.2 661.2,502.5 662.4,509.1 663.6,512.4 664.5,505.8 665.7,495.9 666.5,492.6 668.2,490.9 669,500.8 670.2,509.9 670.7,516.5 671.8,541.3 673.1,558.7 674.5,538 676.1,539.7 677.3,524.8 678.4,508.3 678.9,502.5 679.8,492.6 681.1,495.9 682.2,479.3 683.4,486 684.4,482.6 685.5,462.8 686.7,450.4 687.7,449.6 688.8,462.8 690,486 691,495 692.1,479.3 693.3,466.1 694.6,457.5 696,462.8 697.1,476 698.3,479.3 699.6,482.6 700.7,486.8 701.7,471.1 703.2,453.2 704.5,466.1 705.9,479.3 707,499.2 707.9,513.2 708.2,525.6 709.5,509.9 711.5,504.1 712.8,494.2 714.1,482.6 715.3,489.3 716.4,495.9 717.8,494.2 719.1,500.8 720.7,500.8 721.9,509.9 723.1,526.4 724.4,543.8 725.7,524.8 726.9,521.5 728,526.4 729,516.5 730.2,541.3 731.8,559.5 734,568.6 735.1,549.6 736.8,547.9 738.4,549.6 740.1,543.8 741.2,551.2 742.6,538 743.9,530.6 745,546.3 746.2,524.8 747.2,506.6 747.9,502.5 749.2,490.9 750.5,486.8 751.7,492.6 752.8,495.9 754.5,482.6 755.8,495.9 757.1,492.6 758.3,482.6 759.4,499.2 760.4,505.8 761.6,502.5 762.7,504.1 764,512.4 765.7,516.5 767.4,518.2 769,519.8 770.7,524.8 772.3,521.5 773.6,541.3 774.8,554.5 775.6,529.8 777.3,516.5 778.1,509.9 778.6,505.8 780.2,497.5 781.9,487.6 783.6,479.7 784.7,484.3 786.4,492.6 788,502.5 789.7,500.8 791.3,497.5 792.6,505.8 793.5,513.2 794.6,527.3 795.8,516.5 797.1,518.2 798.4,508.3 800.1,507.4 801.2,496.2 801.7,507.4 802.1,519.8 802.9,538 804.5,561.5" fill="none" stroke="#1b1b74" stroke-width="1.7" stroke-linejoin="miter" stroke-miterlimit="3"/>
<path d="M26.4 472.5 H52.4 V481.8 H45 L40.8 487.2 L36.6 481.8 H26.4 Z" fill="#fff" stroke="#c8c8c8" stroke-width="1"/>
<text class="lb" x="39.4" y="480.2" text-anchor="middle">36.35</text>
<path d="M100.3 426.4 H131.4 V436.4 H120.6 L116.4 441.5 L112.2 436.4 H100.3 Z" fill="#fff" stroke="#c8c8c8" stroke-width="1"/>
<text class="lb" x="115.8" y="434.8" text-anchor="middle">102.87</text>
<path d="M65.6 572.4 H77.1 L81.3 566.3 L85.5 572.4 H95.4 V581.8 H65.6 Z" fill="#fff" stroke="#c8c8c8" stroke-width="1"/>
<text class="lb" x="80.5" y="580.2" text-anchor="middle">-76.26</text>
<path d="M155.2 596.2 H169.1 L173.3 591 L177.5 596.2 H190.8 V606.7 H155.2 Z" fill="#fff" stroke="#c8c8c8" stroke-width="1"/>
<text class="lb" x="173" y="605.1" text-anchor="middle">-111.64</text>
<path d="M201.7 445.5 H226.4 V455 H219.6 L215.4 459.8 L211.2 455 H201.7 Z" fill="#fff" stroke="#c8c8c8" stroke-width="1"/>
<text class="lb" x="214.1" y="453.4" text-anchor="middle">77.21</text>
<path d="M249.6 465.6 H275.7 V475.4 H267.5 L263.3 481 L259.1 475.4 H249.6 Z" fill="#fff" stroke="#c8c8c8" stroke-width="1"/>
<text class="lb" x="262.6" y="473.8" text-anchor="middle">46.67</text>
<path d="M224 573.4 H235.1 L239.3 568 L243.5 573.4 H253.7 V582.8 H224 Z" fill="#fff" stroke="#c8c8c8" stroke-width="1"/>
<text class="lb" x="238.8" y="581.2" text-anchor="middle">-78.08</text>
<path d="M315.7 448.5 H340.5 V458 H333.5 L329.3 462.8 L325.1 458 H315.7 Z" fill="#fff" stroke="#c8c8c8" stroke-width="1"/>
<text class="lb" x="328.1" y="456.4" text-anchor="middle">72.53</text>
<path d="M292.6 552 H304.1 L308.3 546 L312.5 552 H322.3 V561.4 H292.6 Z" fill="#fff" stroke="#c8c8c8" stroke-width="1"/>
<text class="lb" x="307.5" y="559.8" text-anchor="middle">-46.38</text>
<path d="M371.6 490.6 H397.2 V500 H389.5 L385.3 506 L381.1 500 H371.6 Z" fill="#fff" stroke="#c8c8c8" stroke-width="1"/>
<text class="lb" x="384.4" y="498.4" text-anchor="middle">10.44</text>
<path d="M356.5 586.5 H368.2 L372.4 581 L376.6 586.5 H386.4 V596.1 H356.5 Z" fill="#fff" stroke="#c8c8c8" stroke-width="1"/>
<text class="lb" x="371.4" y="594.5" text-anchor="middle">-97.24</text>
<path d="M433.4 363.8 H464.8 V373 H453.8 L449.6 378.5 L445.4 373 H433.4 Z" fill="#fff" stroke="#c8c8c8" stroke-width="1"/>
<text class="lb" x="449.1" y="371.4" text-anchor="middle">193.84</text>
<path d="M454.5 398.2 H485.6 V407.8 H474.6 L470.4 412.6 L466.2 407.8 H454.5 Z" fill="#fff" stroke="#c8c8c8" stroke-width="1"/>
<text class="lb" x="470.1" y="406.2" text-anchor="middle">145.23</text>
<path d="M446.8 496.7 H455.8 L460 491.4 L464.2 496.7 H472.4 V506.1 H446.8 Z" fill="#fff" stroke="#c8c8c8" stroke-width="1"/>
<text class="lb" x="459.6" y="504.5" text-anchor="middle">33.85</text>
<path d="M399.7 679 H413.2 L417.4 673.8 L421.6 679 H434.4 V688.5 H399.7 Z" fill="#fff" stroke="#c8c8c8" stroke-width="1"/>
<text class="lb" x="417" y="686.9" text-anchor="middle">-232.66</text>
<path d="M471 554.5 H482.2 L486.4 549.3 L490.6 554.5 H500.8 V564.1 H471 Z" fill="#fff" stroke="#c8c8c8" stroke-width="1"/>
<text class="lb" x="485.9" y="562.5" text-anchor="middle">-50.80</text>
<path d="M497.7 378 H528.5 V387.4 H517.6 L513.4 392.7 L509.2 387.4 H497.7 Z" fill="#fff" stroke="#c8c8c8" stroke-width="1"/>
<text class="lb" x="513.1" y="385.8" text-anchor="middle">174.72</text>
<path d="M517.1 634 H531.1 L535.3 629 L539.5 634 H552.6 V643.5 H517.1 Z" fill="#fff" stroke="#c8c8c8" stroke-width="1"/>
<text class="lb" x="534.9" y="641.9" text-anchor="middle">-165.11</text>
<path d="M541.3 470 H566.4 V479.3 H557.9 L553.7 485 L549.5 479.3 H541.3 Z" fill="#fff" stroke="#c8c8c8" stroke-width="1"/>
<text class="lb" x="553.8" y="477.7" text-anchor="middle">40.81</text>
<path d="M612.4 486.8 H637.2 V496.2 H629.8 L625.6 501.7 L621.4 496.2 H612.4 Z" fill="#fff" stroke="#c8c8c8" stroke-width="1"/>
<text class="lb" x="624.8" y="494.6" text-anchor="middle">16.20</text>
<path d="M615.7 600 H629.4 L633.6 594.5 L637.8 600 H650.4 V609.3 H615.7 Z" fill="#fff" stroke="#c8c8c8" stroke-width="1"/>
<text class="lb" x="633" y="607.7" text-anchor="middle">-115.91</text>
<path d="M636.4 448.8 H662.4 V458.2 H654.2 L650 463.6 L645.8 458.2 H636.4 Z" fill="#fff" stroke="#c8c8c8" stroke-width="1"/>
<text class="lb" x="649.4" y="456.6" text-anchor="middle">71.65</text>
<path d="M673.1 433.9 H699.6 V443.3 H691.4 L687.2 448.8 L683 443.3 H673.1 Z" fill="#fff" stroke="#c8c8c8" stroke-width="1"/>
<text class="lb" x="686.4" y="441.7" text-anchor="middle">82.99</text>
<path d="M657.4 564.8 H668.9 L673.1 559.5 L677.3 564.8 H687.2 V574.4 H657.4 Z" fill="#fff" stroke="#c8c8c8" stroke-width="1"/>
<text class="lb" x="672.3" y="572.8" text-anchor="middle">-64.72</text>
<path d="M718.6 574.7 H729.8 L734 569.4 L738.2 574.7 H748.8 V584.3 H718.6 Z" fill="#fff" stroke="#c8c8c8" stroke-width="1"/>
<text class="lb" x="733.7" y="582.7" text-anchor="middle">-79.66</text>
<path d="M769.8 464.1 H796.3 V473.6 H787.8 L783.6 478.5 L779.4 473.6 H769.8 Z" fill="#fff" stroke="#c8c8c8" stroke-width="1"/>
<text class="lb" x="783" y="472" text-anchor="middle">49.14</text>
<path d="M758.3 560.8 H770.9 L775.1 555.5 L779.3 560.8 H788 V570.7 H758.3 Z" fill="#fff" stroke="#c8c8c8" stroke-width="1"/>
<text class="lb" x="773.1" y="569.1" text-anchor="middle">-59.10</text>
<rect x="40" y="513" width="897.5" height="4" fill="#0000d6"/>
<ellipse cx="66.8" cy="539.3" rx="21.3" ry="21.3" fill="none" stroke="#22dc22" stroke-width="4.4"/>
<ellipse cx="118.5" cy="448.8" rx="16.8" ry="24.1" fill="none" stroke="#22dc22" stroke-width="4.4"/>
<ellipse cx="213.4" cy="459" rx="16.4" ry="19.3" fill="none" stroke="#e01212" stroke-width="4.4"/>
<ellipse cx="328.4" cy="465.8" rx="16.3" ry="19.8" fill="none" stroke="#e01212" stroke-width="4.4"/>
<ellipse cx="435.5" cy="429.8" rx="54" ry="57.4" fill="none" stroke="#22dc22" stroke-width="4.4"/>
<ellipse cx="398.8" cy="623.9" rx="20.9" ry="33.2" fill="none" stroke="#22dc22" stroke-width="4.4"/>
<ellipse cx="534.5" cy="603.1" rx="27.5" ry="27.5" fill="none" stroke="#e01212" stroke-width="4.4"/>
<ellipse cx="573.9" cy="496.4" rx="25.1" ry="13.5" fill="none" stroke="#22dc22" stroke-width="4.4"/>
<ellipse cx="694.6" cy="460.3" rx="23.4" ry="32.5" fill="none" stroke="#22dc22" stroke-width="4.4"/>
<ellipse cx="775.1" cy="551.6" rx="10.8" ry="8.9" fill="none" stroke="#e01212" stroke-width="4.2"/>
<ellipse cx="801.6" cy="497.5" rx="7" ry="7.8" fill="none" stroke="#e01212" stroke-width="4.2"/>
<g shape-rendering="crispEdges" fill="none" stroke="#acacac" stroke-width="1"><path d="M40.5 28.5 H937.5 V692.5 H40.5 Z M40.5 360.5 H937.5"/><path d="M40.5 714 V706.5 H937.5 V714"/></g>
<path d="M937.5 699.5 H970" stroke="#1b1b74" stroke-width="1.2" fill="none"/>
<text class="ax" x="940.8" y="354.9" textLength="23.2" lengthAdjust="spacing">2200</text>
<text class="ax" x="940.8" y="336.9" textLength="23.2" lengthAdjust="spacing">2300</text>
<text class="ax" x="940.8" y="318.9" textLength="23.2" lengthAdjust="spacing">2400</text>
<text class="ax" x="940.8" y="300.9" textLength="23.2" lengthAdjust="spacing">2500</text>
<text class="ax" x="940.8" y="282.9" textLength="23.2" lengthAdjust="spacing">2600</text>
<text class="ax" x="940.8" y="264.9" textLength="23.2" lengthAdjust="spacing">2700</text>
<text class="ax" x="940.8" y="246.9" textLength="23.2" lengthAdjust="spacing">2800</text>
<text class="ax" x="940.8" y="227.9" textLength="23.2" lengthAdjust="spacing">2900</text>
<text class="ax" x="940.8" y="209.9" textLength="23.2" lengthAdjust="spacing">3000</text>
<text class="ax" x="940.8" y="191.9" textLength="23.2" lengthAdjust="spacing">3100</text>
<text class="ax" x="940.8" y="173.9" textLength="23.2" lengthAdjust="spacing">3200</text>
<text class="ax" x="940.8" y="155.9" textLength="23.2" lengthAdjust="spacing">3300</text>
<text class="ax" x="940.8" y="137.9" textLength="23.2" lengthAdjust="spacing">3400</text>
<text class="ax" x="940.8" y="119.9" textLength="23.2" lengthAdjust="spacing">3500</text>
<text class="ax" x="940.8" y="101.9" textLength="23.2" lengthAdjust="spacing">3600</text>
<text class="ax" x="940.8" y="83.9" textLength="23.2" lengthAdjust="spacing">3700</text>
<text class="ax" x="940.8" y="65.9" textLength="23.2" lengthAdjust="spacing">3800</text>
<text class="ax" x="940.8" y="47.9" textLength="23.2" lengthAdjust="spacing">3900</text>
<text class="ax" x="961.2" y="687.9" text-anchor="end">-250</text>
<text class="ax" x="961.2" y="670.9" text-anchor="end">-225</text>
<text class="ax" x="961.2" y="653.9" text-anchor="end">-200</text>
<text class="ax" x="961.2" y="636.9" text-anchor="end">-175</text>
<text class="ax" x="961.2" y="618.9" text-anchor="end">-150</text>
<text class="ax" x="961.2" y="601.9" text-anchor="end">-125</text>
<text class="ax" x="961.2" y="584.9" text-anchor="end">-100</text>
<text class="ax" x="961.2" y="567.9" text-anchor="end">-75</text>
<text class="ax" x="961.2" y="550.9" text-anchor="end">-50</text>
<text class="ax" x="961.2" y="532.9" text-anchor="end">-25</text>
<text class="ax" x="961.2" y="515.9" text-anchor="end">0</text>
<text class="ax" x="961.2" y="498.9" text-anchor="end">25</text>
<text class="ax" x="961.2" y="481.9" text-anchor="end">50</text>
<text class="ax" x="961.2" y="463.9" text-anchor="end">75</text>
<text class="ax" x="961.2" y="446.9" text-anchor="end">100</text>
<text class="ax" x="961.2" y="429.9" text-anchor="end">125</text>
<text class="ax" x="961.2" y="412.9" text-anchor="end">150</text>
<text class="ax" x="961.2" y="395.9" text-anchor="end">175</text>
<text class="ax" x="961.2" y="377.9" text-anchor="end">200</text>
<path d="M938 352.5 h2 M938 334.5 h2 M938 316.5 h2 M938 298.5 h2 M938 280.5 h2 M938 262.5 h2 M938 244.5 h2 M938 225.5 h2 M938 207.5 h2 M938 189.5 h2 M938 171.5 h2 M938 153.5 h2 M938 135.5 h2 M938 117.5 h2 M938 99.5 h2 M938 81.5 h2 M938 63.5 h2 M938 45.5 h2 M938 685.5 h2 M938 668.5 h2 M938 651.5 h2 M938 634.5 h2 M938 616.5 h2 M938 599.5 h2 M938 582.5 h2 M938 565.5 h2 M938 548.5 h2 M938 530.5 h2 M938 513.5 h2 M938 496.5 h2 M938 479.5 h2 M938 461.5 h2 M938 444.5 h2 M938 427.5 h2 M938 410.5 h2 M938 393.5 h2 M938 375.5 h2" stroke="#b8b8b8" stroke-width="1" shape-rendering="crispEdges"/>
<path d="M938 356.5 h1 M938 348.5 h1 M938 345.5 h1 M938 341.5 h1 M938 338.5 h1 M938 330.5 h1 M938 327.5 h1 M938 323.5 h1 M938 319.5 h1 M938 312.5 h1 M938 309.5 h1 M938 305.5 h1 M938 301.5 h1 M938 294.5 h1 M938 291.5 h1 M938 287.5 h1 M938 283.5 h1 M938 276.5 h1 M938 273.5 h1 M938 269.5 h1 M938 265.5 h1 M938 258.5 h1 M938 254.5 h1 M938 251.5 h1 M938 247.5 h1 M938 240.5 h1 M938 236.5 h1 M938 233.5 h1 M938 229.5 h1 M938 222.5 h1 M938 218.5 h1 M938 215.5 h1 M938 211.5 h1 M938 204.5 h1 M938 200.5 h1 M938 197.5 h1 M938 193.5 h1 M938 186.5 h1 M938 182.5 h1 M938 179.5 h1 M938 175.5 h1 M938 168.5 h1 M938 164.5 h1 M938 161.5 h1 M938 157.5 h1 M938 150.5 h1 M938 146.5 h1 M938 143.5 h1 M938 139.5 h1 M938 132.5 h1 M938 128.5 h1 M938 124.5 h1 M938 121.5 h1 M938 114.5 h1 M938 110.5 h1 M938 106.5 h1 M938 103.5 h1 M938 96.5 h1 M938 92.5 h1 M938 88.5 h1 M938 85.5 h1 M938 78.5 h1 M938 74.5 h1 M938 70.5 h1 M938 67.5 h1 M938 59.5 h1 M938 56.5 h1 M938 52.5 h1 M938 49.5 h1 M938 41.5 h1 M938 38.5 h1 M938 34.5 h1 M938 31.5 h1" stroke="#c4c4c4" stroke-width="1" shape-rendering="crispEdges"/>
<text class="mo" x="68.8" y="702.8" text-anchor="middle">May</text>
<text class="mo" x="104" y="702.8" text-anchor="middle">Jun</text>
<text class="mo" x="136" y="702.8" text-anchor="middle">Jul</text>
<text class="mo" x="171.2" y="702.8" text-anchor="middle">Aug</text>
<text class="mo" x="206.4" y="702.8" text-anchor="middle">Sep</text>
<text class="mo" x="238.4" y="702.8" text-anchor="middle">Oct</text>
<text class="mo" x="275.3" y="702.8" text-anchor="middle">Nov</text>
<text class="mo" x="307.3" y="702.8" text-anchor="middle">Dec</text>
<text class="yr" x="339.9" y="702.8" text-anchor="middle">2020</text>
<text class="mo" x="374.5" y="702.8" text-anchor="middle">Feb</text>
<text class="mo" x="404.9" y="702.8" text-anchor="middle">Mar</text>
<text class="mo" x="440.1" y="702.8" text-anchor="middle">Apr</text>
<text class="mo" x="473.7" y="702.8" text-anchor="middle">May</text>
<text class="mo" x="505.7" y="702.8" text-anchor="middle">Jun</text>
<text class="mo" x="540.9" y="702.8" text-anchor="middle">Jul</text>
<text class="mo" x="576.1" y="702.8" text-anchor="middle">Aug</text>
<text class="mo" x="609.7" y="702.8" text-anchor="middle">Sep</text>
<text class="mo" x="643.3" y="702.8" text-anchor="middle">Oct</text>
<text class="mo" x="678.6" y="702.8" text-anchor="middle">Nov</text>
<text class="mo" x="710.6" y="702.8" text-anchor="middle">Dec</text>
<text class="yr" x="744.8" y="702.8" text-anchor="middle">2021</text>
<text class="mo" x="776.2" y="702.8" text-anchor="middle">Feb</text>
<text class="mo" x="806.6" y="702.8" text-anchor="middle">Mar</text>
<text class="mo" x="843.4" y="702.8" text-anchor="middle">Apr</text>
<text class="mo" x="877" y="702.8" text-anchor="middle">May</text>
<text class="mo" x="909" y="702.8" text-anchor="middle">Jun</text>
<rect x="36" y="698" width="2" height="2" fill="#999"/>
<text x="40" y="14" font-size="14" font-weight="bold" textLength="40.5" lengthAdjust="spacingAndGlyphs">$NYUD</text>
<text x="85" y="13" font-size="10.5" textLength="159.5" lengthAdjust="spacingAndGlyphs">NYSE - Advance-Decline Volume</text>
<text x="250.3" y="13" font-size="10" textLength="23.3" lengthAdjust="spacing">INDX</text>
<text x="40" y="26" font-size="10" textLength="58.4" lengthAdjust="spacing">26-Feb-2021</text>
<text x="847.8" y="13.6" font-size="11.3" textLength="89.6" lengthAdjust="spacingAndGlyphs" style="fill:#585858">© StockCharts.com</text>
<text x="558.8" y="25.6" font-size="11" font-weight="bold" textLength="28.2" lengthAdjust="spacing">Open</text>
<text x="590.8" y="25.6" font-size="10.3" textLength="20.3" lengthAdjust="spacing">2.15</text>
<text x="617.6" y="25.6" font-size="11" font-weight="bold" textLength="23.6" lengthAdjust="spacing">High</text>
<text x="644.4" y="25.6" font-size="10.3" textLength="26.2" lengthAdjust="spacing">86.35</text>
<text x="677.9" y="25.6" font-size="11" font-weight="bold" textLength="22.8" lengthAdjust="spacing">Low</text>
<text x="705" y="25.6" font-size="10.3" textLength="40.7" lengthAdjust="spacing">-3651.59</text>
<text x="753" y="25.6" font-size="11" font-weight="bold" textLength="30.6" lengthAdjust="spacing">Close</text>
<text x="788" y="25.6" font-size="10.3" textLength="35" lengthAdjust="spacing">-862.87</text>
<text x="829.6" y="25.6" font-size="11" font-weight="bold" textLength="21.4" lengthAdjust="spacing">Chg</text>
<text x="855" y="25.6" font-size="10.3" textLength="72.3" lengthAdjust="spacing">+8.39 (+0.96%)</text>
<path d="M930.2 25 L933.8 21.2 L937.4 25 Z" fill="#3c643c"/>
<rect x="41" y="29" width="93" height="13" fill="#fff"/>
<path d="M44.5 31v6M47.5 32.5v7.5M50.5 31v7M43 32.5h1M45 35.5h1M46 34.5h1M48 38.5h1M49 33h1M51 36.5h1" stroke="#0b6a0b" stroke-width="1" fill="none" shape-rendering="crispEdges"/>
<text x="55.5" y="38.9" font-size="9.3" style="font-family:'DejaVu Sans','Liberation Sans',sans-serif;stroke:#000;stroke-width:0.25px" textLength="76.6" lengthAdjust="spacing">$SPX 3811.15</text>
<text x="56.7" y="717.6" font-size="10" style="font-family:'DejaVu Sans','Liberation Sans',sans-serif" textLength="34" lengthAdjust="spacing">$NYUD</text>
</svg></body></html>
